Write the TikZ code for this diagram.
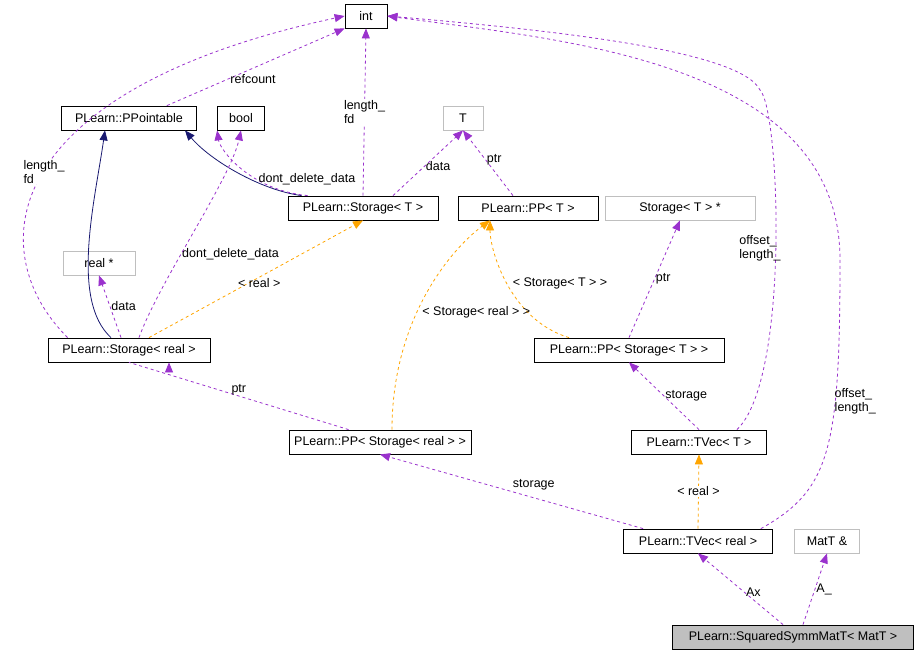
\documentclass[tikz,border=0pt]{standalone}
\usepackage{fontspec}
\setmainfont{Liberation Sans}
\usetikzlibrary{arrows.meta}
\definecolor{edgepurple}{HTML}{9A32CD}
\definecolor{edgeorange}{HTML}{FFA500}
\definecolor{edgenavy}{HTML}{191970}
\definecolor{boxgray}{HTML}{BFBFBF}
\begin{document}
\begin{tikzpicture}[x=1pt,y=-1pt,font=\fontsize{12.5}{14}\selectfont,
  box/.style={draw=black,thick,minimum height=24pt,inner xsep=4pt,inner ysep=0pt},
  ext/.style={box,draw=boxgray},
  use/.style={edgepurple,dashed,thick,-{Triangle[length=10pt,width=8pt]}},
  tmpl/.style={edgeorange,dashed,thick,-{Triangle[length=10pt,width=8pt]}},
  inh/.style={edgenavy,thick,-{Triangle[length=10pt,width=8pt]}},
  lbl/.style={align=left,inner sep=1pt,text=black}]
  \useasboundingbox (0,0) rectangle (920,659);

  % classes
  \node[box,minimum width=42pt] (int) at (366,16) {int};
  \node[box,minimum width=135pt] (pptr) at (129,118) {PLearn::PPointable};
  \node[box,minimum width=47pt] (bool) at (241,118) {bool};
  \node[ext,minimum width=40pt] (T) at (463,118) {T};
  \node[box,minimum width=150pt] (stT) at (363,208) {PLearn::Storage< T >};
  \node[box,minimum width=140pt] (ppT) at (528,208) {PLearn::PP< T >};
  \node[ext,minimum width=150pt] (stTp) at (680,208) {Storage< T > *};
  \node[ext,minimum width=72pt] (realp) at (99,263) {real *};
  \node[box,minimum width=162pt] (streal) at (129,350) {PLearn::Storage< real >};
  \node[box,minimum width=190pt] (ppstT) at (629,350) {PLearn::PP< Storage< T > >};
  \node[box,minimum width=182pt] (ppstreal) at (380,442) {PLearn::PP< Storage< real > >};
  \node[box,minimum width=135pt] (tvT) at (699,442) {PLearn::TVec< T >};
  \node[box,minimum width=149pt] (tvreal) at (698,541) {PLearn::TVec< real >};
  \node[ext,minimum width=65pt] (matT) at (827,541) {MatT \&};
  \node[box,fill=boxgray,minimum width=241pt] (sq) at (793,637) {PLearn::SquaredSymmMatT< MatT >};

  % inheritance
  \draw[inh] (streal.north) ++(-18,0) .. controls (70,300) and (95,200) .. (pptr.south -| 105,0);
  \draw[inh] (stT.north west) ++(14,0) .. controls (260,190) and (210,160) .. (pptr.south -| 185,0);
  % members
  \draw[use] (pptr.north east) ++(-30,0) -- node[lbl,right,pos=0.35]{refcount} (int.south west);
  \draw[use] (streal.north west) ++(20,0) .. controls (-20,250) and (0,90) .. node[lbl,pos=0.5,fill=white]{length\_\\fd} (int.west);
  \draw[use] (streal.north) ++(10,0) .. controls (160,280) and (230,180) .. node[lbl,right,pos=0.4]{dont\_delete\_data} (bool.south);
  \draw[use] (stT.north west) ++(20,0) .. controls (250,190) and (220,150) .. node[lbl,right,pos=0.35]{dont\_delete\_data} (bool.south west);
  \draw[use] (stT.north) -- node[lbl,fill=white]{length\_\\fd} (int.south);
  \draw[use] (stT.north) ++(30,0) -- node[lbl,right,pos=0.45]{data} (T.south);
  \draw[use] (streal.north) ++(-8,0) -- node[lbl,right,pos=0.5]{data} (realp.south);
  \draw[tmpl] (streal.north) ++(20,0) -- node[lbl,pos=0.4,above right=2pt]{< real >} (stT.south);
  \draw[use] (ppT.north) ++(-15,0) -- node[lbl,right,pos=0.55]{ptr} (T.south);
  \draw[tmpl] (ppstT.north) ++(-60,0) .. controls (510,320) and (490,250) .. node[lbl,pos=0.5,right=4pt]{< Storage< T > >} (ppT.south -| 490,0);
  \draw[use] (ppstT.north) -- node[lbl,right,pos=0.5]{ptr} (stTp.south);
  \draw[use] (ppstreal.north west) ++(60,0) -- node[lbl,pos=0.5,above]{ptr} (streal.south) ++(40,0);
  \draw[tmpl] (ppstreal.north) ++(12,0) .. controls (392,320) and (450,250) .. node[lbl,pos=0.42,right=4pt]{< Storage< real > >} (ppT.south -| 490,0);
  \draw[use] (tvT.north) -- node[lbl,right,pos=0.5]{storage} (ppstT.south);
  \draw[use] (tvT.north east) ++(-30,0) .. controls (790,380) and (780,110) .. node[lbl,pos=0.5,left=-6pt]{offset\_\\length\_} (760,90) .. controls (740,50) and (550,30) .. (int.east);
  \draw[use] (tvreal.north west) ++(20,0) -- node[lbl,pos=0.5,above right]{storage} (ppstreal.south);
  \draw[tmpl] (tvreal.north) -- node[lbl,fill=white]{< real >} (tvT.south);
  \draw[use] (tvreal.north east) ++(-12,0) .. controls (830,490) and (840,450) .. node[lbl,pos=0.68,right=-2pt]{offset\_\\length\_} (840,260) .. controls (840,60) and (560,40) .. (int.east);
  \draw[use] (sq.north) ++(-10,0) -- node[lbl,right,pos=0.45]{Ax} (tvreal.south);
  \draw[use] (sq.north) ++(10,0) -- node[lbl,right,pos=0.5]{A\_} (matT.south);
\end{tikzpicture}
\end{document}
